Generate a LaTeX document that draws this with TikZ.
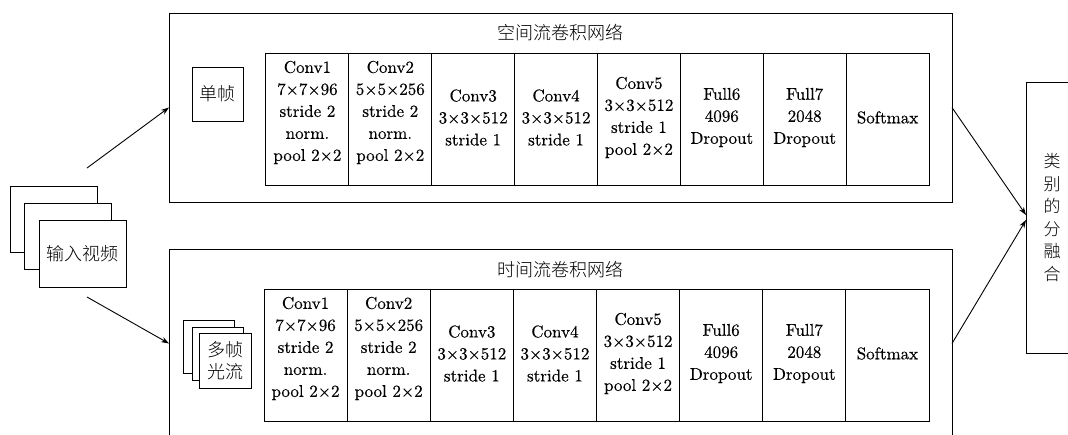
\documentclass[tikz,border=0pt]{standalone}
\usepackage{fontspec}
\newfontfamily\cjk{Noto Sans CJK SC}[UprightFont={* Light}]
\newfontfamily\lmr{lmroman10-regular}[Extension=.otf, FakeBold=0.4]
\usetikzlibrary{arrows.meta,calc}
\begin{document}
\begin{tikzpicture}[x=1pt,y=-1pt,
  box/.style={draw, line width=1pt, inner sep=0pt, outer sep=0pt},
  layer/.style={box, minimum width=82.9pt, minimum height=132pt},
  ltext/.style={font=\lmr\fontsize{17}{22}\selectfont, align=center, inner sep=0pt},
  ctext/.style={font=\cjk\fontsize{18}{22}\selectfont, align=center, inner sep=0pt},
  arr/.style={-{Stealth[length=8pt,width=5.5pt]}, line width=0.9pt}]
\clip (0,0) rectangle (1068,434);
% outer network boxes
\node[box, minimum width=783pt, minimum height=189pt] (spatial) at (560.5,107.5) {};
\node[box, minimum width=783pt, minimum height=189pt] (temporal) at (560.5,343.5) {};
\node[ctext] (t1) at (560,33) {空间流卷积网络};
\node[ctext] (t2) at (560,270) {时间流卷积网络};
% layers
\foreach \i/\dy/\txt in {
  1/-6.5/{Conv1\\7×7×96\\stride 2\\norm.\\pool 2×2},
  2/-6.5/{Conv2\\5×5×256\\stride 2\\norm.\\pool 2×2},
  3/-1.5/{Conv3\\3×3×512\\stride 1},
  4/-1.5/{Conv4\\3×3×512\\stride 1},
  5/-1.5/{Conv5\\3×3×512\\stride 1\\pool 2×2},
  6/-1.5/{Full6\\4096\\Dropout},
  7/-1.5/{Full7\\2048\\Dropout},
  8/-1.5/{Softmax}} {
  \node[layer] (s\i) at ({266+82.875*(\i-0.5)},119) {};
  \node[ltext] (st\i) at ($(s\i.center)+(0,\dy)$) {\txt};
  \node[layer, minimum width=83.125pt] (b\i) at ({264+83.125*(\i-0.5)},355) {};
  \node[ltext] (bt\i) at ($(b\i.center)+(0,\dy)$) {\txt};
}
% single frame
\node[box, ctext, minimum width=51pt, minimum height=54pt] (single) at (217.5,94) {单帧};
% optical flow stack
\node[box, fill=white, minimum width=51pt, minimum height=53pt] (f1) at (208.5,346.5) {};
\node[box, fill=white, minimum width=51pt, minimum height=53pt] (f2) at (217.5,353.5) {};
\node[box, fill=white, ctext, minimum width=52pt, minimum height=55pt] (f3) at (225,360.5) {多帧\\光流};
% input video stack
\node[box, fill=white, minimum width=87pt, minimum height=66pt] (v1) at (53.5,219) {};
\node[box, fill=white, minimum width=87pt, minimum height=66pt] (v2) at (67.5,236) {};
\node[box, fill=white, ctext, minimum width=87pt, minimum height=67pt] (v3) at (82.5,253.5) {输入视频};
% fusion
\node[box, minimum width=54pt, minimum height=271pt] (fusion) at (1053,217.5) {};
\node[ctext, font=\cjk\fontsize{17}{22.5}\selectfont] (ft) at ($(fusion.center)+(-1,0)$) {类\\别\\的\\分\\融\\合};
% arrows
\coordinate (a1) at (87,168);
\coordinate (a2) at (87,297);
\draw[arr] (a1) -- (spatial.west);
\draw[arr] (a2) -- (temporal.west);
\draw[arr] (spatial.east) -- ([yshift=2.5pt]fusion.west);
\draw[arr] (temporal.east) -- ([yshift=-2.5pt]fusion.west);
\end{tikzpicture}
\end{document}
